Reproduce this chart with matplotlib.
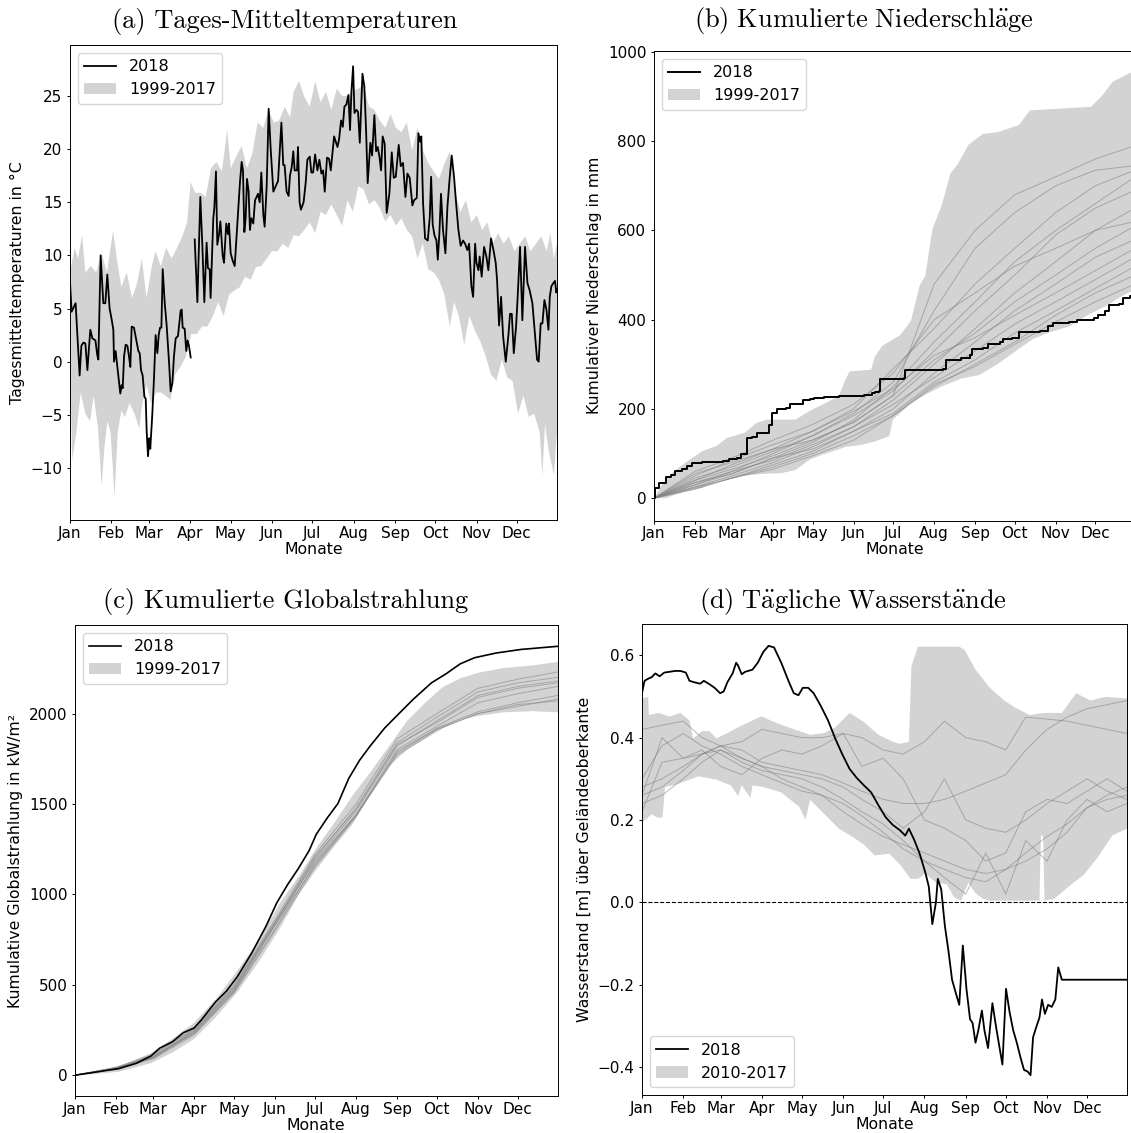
import numpy as np
import matplotlib
matplotlib.use('Agg')
import matplotlib.pyplot as plt
import matplotlib.dates as mdates
from datetime import datetime

plt.rcParams['font.family'] = ['DejaVu Sans']
plt.rcParams['font.size'] = 11
plt.rcParams['axes.labelsize'] = 11.3
plt.rcParams['axes.linewidth'] = 0.7
plt.rcParams['mathtext.fontset'] = 'cm'

nan = float('nan')

month_days = [0, 31, 59, 90, 120, 151, 181, 212, 243, 273, 304, 334, 364]

# (a) Tages-Mitteltemperaturen 2018 (Tag, °C)
temp_2018 = [
    (0, 7.5), (1.2, 4.7), (4.2, 5.5), (7.2, -1.3), (8.5, 1.5), (10, 1.8), (11.5, 1.7),
    (13, -0.8), (14, 1.0), (15.2, 3.0), (16.7, 2.2), (19, 2.0), (20.4, 0.6), (21.2, 0.2),
    (22.9, 10.0), (24.9, 5.5), (26.4, 5.5), (27.9, 8.2), (29.6, 5.0), (31.1, 4.0),
    (32.4, 3.0), (32.9, 0.0), (34.1, 1.0), (35.4, -0.5), (36.9, -2.3), (37.6, -3.0),
    (38.6, -2.2), (39.4, -2.5), (40.4, 0.5), (41.6, 1.6), (42.9, 1.5), (44.1, 0.5),
    (45.1, -0.5), (46.1, 3.3), (47.8, 3.2), (49.6, 2.0), (51.1, 1.0), (52.1, 0.8),
    (53.1, -0.8), (54.3, -1.3), (55.6, -3.3), (56.6, -3.5), (57.3, -6.5), (58.3, -8.9),
    (59.3, -7.2), (60, -8.2), (61.5, -5.0), (62.8, -1.5), (64, 2.5), (65.3, 0.8),
    (66.3, 2.5), (67.3, 3.2), (68.3, 3.2), (69.3, 8.7), (70.8, 5.5), (72.2, 3.5),
    (74, 0.0), (75.2, -2.8), (76.5, -2.0), (77.7, 0.5), (79, 2.2), (80.7, 2.4),
    (82.7, 4.8), (83.5, 4.9), (84.2, 3.2), (85.7, 3.1), (86.9, 1.0), (87.9, 2.0),
    (88.9, 1.5), (90.2, 0.4), (91.5, nan), (93.2, 11.5), (95.2, 5.6), (97.4, 15.5),
    (98.9, 11.0), (100.4, 5.6), (102.1, 11.2), (103.1, 8.8), (104.4, 8.7), (105.1, 6.0),
    (107.1, 13.5), (107.9, 14.5), (109.1, 17.9), (110.1, 11.0), (111.4, 12.0),
    (112.4, 13.2), (114.1, 10.0), (115.1, 9.3), (116.8, 13.0), (118.1, 12.0),
    (118.8, 13.0), (120.1, 10.2), (121.6, 9.5), (123.1, 9.0), (125.6, 14.0),
    (127.1, 17.0), (128.3, 18.8), (129.3, 18.0), (130.3, 12.2), (131.3, 13.5),
    (132.3, 17.2), (133.5, 16.0), (134.5, 12.4), (135.5, 13.5), (137, 13.0),
    (138.3, 15.2), (139.5, 15.5), (140.5, 15.8), (141.8, 15.0), (143, 17.8),
    (144.5, 13.8), (145.5, 12.7), (147, 16.5), (148.5, 23.8), (150, 20.0), (152, 16.0),
    (153.7, 16.5), (155.5, 17.0), (158, 22.5), (159.4, 18.5), (160.4, 18.5),
    (161.9, 16.0), (163.4, 15.6), (164.4, 17.5), (165.7, 18.3), (166.9, 19.8),
    (167.9, 18.0), (169.7, 18.0), (170.4, 20.2), (171.6, 15.0), (172.6, 14.3),
    (174.6, 15.0), (176.2, 16.9), (177.4, 19.0), (179.2, 19.3), (180.4, 17.8),
    (181.7, 17.8), (183.2, 19.5), (184.9, 18.0), (186.4, 19.0), (187.9, 17.7),
    (189.2, 18.0), (190.4, 16.0), (192.1, 19.2), (193.6, 19.1), (194.9, 18.0),
    (197.4, 21.2), (199.9, 20.2), (201.1, 20.9), (202.6, 22.7), (203.9, 22.1),
    (205.1, 24.0), (206.6, 24.2), (208.1, 25.1), (209.3, 21.8), (210.3, 25.3),
    (211.6, 27.8), (212.6, 23.4), (214.1, 23.7), (215.3, 23.5), (216.6, 20.6),
    (218.6, 27.1), (220.0, 25.9), (221.3, 21.8), (222.5, 16.8), (224.5, 20.6),
    (225.8, 19.4), (227.5, 23.2), (228.8, 19.8), (230.0, 20.2), (231.3, 19.3),
    (232.5, 18.0), (233.7, 21.2), (235.2, 20.5), (236.7, 14.0), (238.7, 15.8),
    (240.5, 19.7), (242.0, 17.3), (243.5, 17.4), (245.7, 20.4), (247.2, 18.4),
    (248.9, 18.7), (250.7, 15.5), (252.2, 17.7), (253.9, 17.3), (255.9, 14.7),
    (257.2, 15.2), (259.2, 15.4), (260.4, 21.5), (261.7, 20.7), (262.6, 21.2),
    (263.9, 14.9), (265.4, 11.6), (267.4, 11.4), (268.9, 13.6), (269.9, 17.4),
    (271.1, 12.9), (272.4, 11.9), (273.9, 11.4), (274.9, 9.6), (276.1, 12.1),
    (277.3, 15.8), (278.8, 12.4), (280.6, 10.2), (282.1, 14.6), (283.8, 17.3),
    (285.3, 19.4), (287.1, 17.3), (288.8, 14.6), (290.3, 12.4), (292.0, 10.9),
    (293.8, 11.4), (295.3, 11.1), (297.0, 10.5), (298.3, 11.1), (300.0, 7.1),
    (301.3, 6.1), (302.8, 11.1), (303.8, 9.3), (305.3, 8.6), (306.2, 9.9), (307.7, 8.0),
    (309.5, 10.8), (311.2, 9.9), (312.7, 8.6), (314.7, 11.6), (316.5, 10.5),
    (318.2, 9.3), (319.2, 7.7), (320.7, 3.4), (322.2, 6.1), (323.7, 2.4), (325.7, 0.0),
    (327.7, 2.5), (328.9, 4.5), (330.2, 4.5), (331.7, 0.8), (333.4, 3.3), (334.6, 6.1),
    (336.4, 10.8), (338.1, 3.9), (340.1, 10.8), (341.9, 7.4), (343.6, 6.7),
    (345.6, 5.5), (347.6, 2.4), (349.1, 0.2), (350.3, 0.0), (351.8, 3.6), (353.1, 3.6),
    (354.6, 5.8), (356.1, 4.9), (357.6, 3.0), (358.6, 6.1), (359.8, 7.1), (361.3, 7.4),
    (362.5, 7.6), (363.5, 6.5), (364, 6.8),
]

# (a) Spannweite 1999-2017: Obergrenze und Untergrenze (Tag, °C)
temp_max = [
    (0, 8.4), (3.5, 10.7), (6, 9.7), (9, 11.9), (11.5, 8.4), (15.5, 9.0), (19.6, 8.4),
    (23.6, 10.2), (27.6, 8.4), (32.2, 12.3), (35, 9.7), (38.4, 7.0), (42.4, 8.4),
    (46.4, 6.0), (50, 7.3), (53.7, 9.7), (57.2, 6.0), (61.2, 9.0), (63.9, 10.4),
    (67.9, 9.0), (71.9, 10.7), (75.9, 9.7), (80, 10.7), (84, 11.8), (87.5, 13.1),
    (90.2, 16.9), (93.4, 15.9), (97.4, 15.9), (101.4, 15.5), (105.4, 18.2),
    (109.5, 18.8), (113.5, 17.9), (117.5, 21.8), (120.2, 18.2), (124.2, 19.3),
    (128.3, 20.3), (132.3, 18.2), (136.3, 19.6), (140.3, 22.5), (144.4, 22.0),
    (148.4, 23.7), (152.4, 22.5), (156.4, 22.7), (160.5, 24.0), (164.5, 23.0),
    (167.2, 25.4), (171.2, 26.4), (175.2, 24.9), (179.2, 24.0), (183.3, 26.4),
    (187.3, 24.4), (191.3, 25.4), (195.3, 23.7), (199.4, 25.7), (203.4, 25.0),
    (207.4, 25.0), (211.4, 25.5), (215.5, 25.7), (219.5, 26.0), (223.5, 24.0),
    (227.5, 23.7), (231.5, 22.7), (235.6, 22.0), (239.6, 23.3), (243.6, 22.0),
    (247.7, 21.6), (251.7, 22.5), (255.7, 19.9), (259.7, 22.0), (263.7, 19.9),
    (267.8, 18.7), (271.8, 17.9), (275.8, 17.2), (279.8, 18.6), (283.9, 19.8),
    (287.9, 15.9), (291.9, 14.1), (295.9, 15.2), (300, 13.1), (304, 13.8), (308, 12.4),
    (312, 13.1), (316, 11.1), (320, 12.1), (324.1, 11.1), (328.1, 11.8), (332.2, 10.4),
    (336.2, 11.1), (340.2, 11.8), (344.2, 10.4), (348.3, 11.1), (352.3, 11.8),
    (356.3, 10.4), (359, 12.1), (361.7, 9.7), (364, 11.1),
]
temp_min = [
    (0, 0.2), (1.6, -9.3), (4.8, -6.6), (8, -2.9), (11.5, -4.9), (15, -5.6), (17.7, -3.2),
    (21, -6.3), (23.6, -11.7), (25.8, -8.0), (27.9, -5.6), (30.3, -6.6), (33.3, -12.7),
    (35.7, -6.6), (38.4, -4.6), (41, -5.2), (44.5, -3.9), (48.3, -4.9), (51.8, -6.3),
    (53.7, -4.2), (57.2, -2.2), (60.6, -3.9), (64.4, -2.9), (67.9, -2.9), (71.4, -3.2),
    (75.1, -3.6), (78.6, -1.2), (82.6, -0.5), (86.7, 0.5), (90.7, 2.6), (94.7, 2.6),
    (98.7, 3.3), (102.8, 3.3), (106.8, 4.3), (110.8, 5.6), (114.8, 4.3), (118.9, 6.3),
    (122.9, 6.7), (126.9, 7.0), (130.9, 8.0), (135, 7.7), (139, 8.9), (143, 9.0),
    (147, 9.7), (151.1, 10.4), (155.1, 10.4), (159.1, 11.1), (163.1, 10.7), (167.2, 11.9),
    (171.2, 11.8), (175.2, 12.4), (179.2, 13.1), (183.3, 12.1), (187.3, 14.1),
    (191.3, 13.8), (195.3, 14.8), (199.4, 13.8), (203.4, 12.8), (207.4, 15.2),
    (211.4, 14.1), (215.5, 16.5), (219.5, 16.2), (223.5, 14.8), (227.5, 15.2),
    (231.5, 14.5), (235.6, 13.2), (239.6, 13.8), (243.6, 12.8), (247.7, 13.5),
    (251.7, 12.4), (255.7, 11.8), (259.7, 9.7), (263.7, 11.1), (267.8, 8.7), (271.8, 8.4),
    (275.8, 7.7), (279.8, 6.3), (283.9, 3.3), (287.1, 5.6), (290.6, 4.3), (294.6, 1.6),
    (298.6, 4.3), (302.7, 2.9), (306.7, 1.9), (310.7, 0.5), (314.7, -1.2), (318.7, -1.8),
    (322.8, 0.2), (326.8, -1.5), (330.8, -1.8), (334.9, -4.9), (338.9, -3.2),
    (342.9, -5.2), (346.9, -4.9), (351, -6.6), (353.1, -10.7), (355, -5.9),
    (357.7, -8.3), (361.7, -10.7), (364, -6.6),
]

# (b) Kumulierter Niederschlag 2018 in mm (Tag, Wert ab diesem Tag)
precip_2018 = [
    (0, 0), (1, 22), (4, 33), (8, 35), (9, 47), (13, 52), (16, 60), (21, 65), (25, 72),
    (29, 78), (36, 80), (42, 82), (52, 83), (57, 88), (63, 90), (66, 100), (70, 135),
    (74, 138), (78, 145), (85, 147), (87, 165), (89, 190), (93, 200), (100, 203),
    (103, 210), (110, 212), (113, 220), (118, 222), (121, 225), (129, 227), (140, 228),
    (151, 230), (159, 232), (165, 236), (167, 238), (170, 240), (171, 268), (189, 270),
    (190, 288), (219, 290), (221, 310), (232, 315), (239, 320), (241, 335), (249, 337),
    (253, 345), (262, 350), (264, 357), (271, 360), (276, 372), (292, 375), (298, 385),
    (302, 392), (314, 395), (320, 400), (333, 403), (336, 410), (341, 420), (344, 432),
    (352, 435), (355, 448), (360, 452), (364, 455),
]
precip_max = [
    (0, 0), (6.3, 31), (14.4, 59), (25.4, 83), (36.3, 105), (47.2, 117), (55.3, 135),
    (69, 147), (77.2, 168), (85.3, 176), (107.1, 176), (118, 196), (129, 212),
    (139.9, 228), (144, 260), (148, 284), (164.4, 288), (167.1, 317), (172.6, 341),
    (186.2, 365), (194.4, 397), (201.2, 478), (205.3, 498), (210.7, 603), (217.6, 655),
    (224.4, 728), (229.8, 748), (238, 792), (248.9, 816), (259.8, 820), (276.2, 836),
    (284.4, 869), (330.7, 877), (338.9, 901), (347.1, 933), (360.1, 953), (364, 955),
]
precip_min = [
    (0, 0), (9, 0), (14.4, 6), (22.6, 15), (36.3, 23), (47.2, 39), (58.1, 43), (69, 51),
    (85.3, 55), (96.2, 56), (107.1, 63), (118, 87), (129, 99), (145.3, 115), (156.2, 119),
    (167.1, 127), (178, 139), (180.8, 176), (194.4, 212), (205.3, 232), (218.9, 252),
    (232.6, 268), (246.2, 276), (259.8, 300), (273.4, 329), (287.1, 357), (300.7, 373),
    (314.3, 385), (328, 410), (341.6, 430), (352.5, 450), (360.1, 462), (364, 466),
]
# (b) Einzeljahre 1999-2017, Monatsanfangswerte in mm
precip_years = [
    [0, 40, 75, 110, 130, 170, 230, 480, 600, 680, 720, 760, 790],
    [0, 35, 60, 100, 140, 190, 260, 420, 560, 640, 700, 735, 745],
    [0, 50, 85, 120, 150, 200, 290, 380, 480, 560, 640, 700, 735],
    [0, 30, 55, 90, 125, 175, 250, 350, 440, 530, 600, 660, 720],
    [0, 45, 70, 105, 140, 185, 240, 330, 420, 500, 590, 650, 690],
    [0, 25, 50, 80, 115, 160, 220, 300, 380, 460, 530, 600, 650],
    [0, 40, 65, 95, 130, 170, 230, 310, 370, 440, 500, 560, 610],
    [0, 20, 45, 75, 105, 150, 200, 280, 350, 420, 480, 540, 580],
    [0, 55, 80, 110, 150, 195, 245, 320, 360, 410, 460, 510, 560],
    [0, 30, 60, 85, 120, 160, 210, 270, 330, 390, 440, 490, 540],
    [0, 35, 55, 90, 110, 150, 190, 260, 310, 370, 420, 470, 520],
    [0, 22, 45, 70, 100, 140, 185, 250, 300, 350, 410, 460, 500],
    [0, 60, 90, 130, 165, 210, 280, 400, 460, 520, 560, 600, 620],
    [0, 25, 45, 65, 95, 130, 185, 255, 295, 345, 395, 440, 480],
]

# (c) Kumulierte Globalstrahlung in kW/m²
rad_days = [0, 32.8, 46.4, 57.2, 64, 73.5, 81.7, 89.8, 95.2, 106, 114.2, 122.4, 133.2,
            144.1, 152.2, 160.3, 168.5, 176.6, 182, 190.2, 198.3, 206.5, 214.6, 222.7,
            233.6, 244.4, 255.3, 268.9, 279.7, 290.6, 301.4, 317.7, 336.7, 364]
rad_2018 = [0, 36, 66, 106, 150, 185, 235, 261, 305, 405, 465, 544, 674, 824, 953, 1053,
            1143, 1242, 1332, 1422, 1502, 1641, 1741, 1821, 1920, 2000, 2080, 2170, 2219,
            2275, 2309, 2335, 2355, 2372]
rad_band_days = [0, 32.8, 57.2, 73.5, 89.8, 106.1, 122.4, 138.6, 154.9, 168.5, 182,
                 195.6, 209.2, 222.7, 236.3, 249.9, 263.4, 277, 290.6, 304.1, 323.1,
                 344.8, 364]
rad_max = [0, 50, 126, 205, 295, 425, 584, 754, 963, 1103, 1262, 1402, 1551, 1681, 1820,
           1960, 2060, 2149, 2199, 2229, 2255, 2269, 2289]
rad_min = [0, 22, 70, 130, 205, 325, 465, 634, 824, 1003, 1143, 1272, 1392, 1561, 1711,
           1801, 1861, 1920, 1970, 1990, 2010, 2016, 2010]
rad_years = [
    [0, 42, 110, 260, 500, 860, 1220, 1500, 1860, 2000, 2140, 2190, 2230],
    [0, 40, 100, 245, 480, 840, 1200, 1480, 1840, 1980, 2120, 2170, 2200],
    [0, 38, 95, 235, 470, 830, 1190, 1460, 1820, 1960, 2100, 2150, 2180],
    [0, 44, 115, 255, 490, 850, 1180, 1440, 1800, 1930, 2060, 2110, 2150],
    [0, 36, 90, 225, 460, 810, 1170, 1440, 1780, 1920, 2010, 2060, 2100],
    [0, 40, 100, 240, 470, 830, 1160, 1435, 1770, 1910, 2000, 2040, 2080],
    [0, 38, 105, 230, 455, 800, 1150, 1430, 1790, 1915, 2000, 2050, 2070],
    [0, 42, 98, 250, 485, 845, 1210, 1470, 1830, 1950, 2090, 2140, 2170],
]

# (d) Wasserstand 2018 in m über Geländeoberkante (Tag, m)
level_2018 = [
    (0, 0.508), (1.9, 0.538), (4.6, 0.543), (7.3, 0.547), (10, 0.556), (13.2, 0.549),
    (16.7, 0.558), (20.8, 0.560), (24.8, 0.562), (28.9, 0.562), (32.9, 0.558),
    (35.6, 0.538), (39.7, 0.534), (43.7, 0.531), (46.4, 0.538), (50.5, 0.530),
    (54.5, 0.521), (58.6, 0.508), (61.3, 0.512), (64, 0.534), (68, 0.556), (70.7, 0.582),
    (72.1, 0.575), (74.8, 0.554), (77.5, 0.560), (82.9, 0.565), (86.9, 0.582),
    (91, 0.608), (95, 0.623), (99.1, 0.619), (104.5, 0.582), (109.9, 0.538),
    (113.9, 0.508), (117.4, 0.503), (120.7, 0.521), (124.7, 0.521), (128.8, 0.508),
    (134.2, 0.477), (139.6, 0.442), (145, 0.398), (150.4, 0.359), (155.8, 0.324),
    (161.2, 0.302), (166.6, 0.284), (172, 0.267), (177.4, 0.236), (182.8, 0.207),
    (188.2, 0.188), (193.6, 0.175), (197.6, 0.162), (200.3, 0.179), (204.4, 0.151),
    (208.4, 0.118), (212.5, 0.074), (215.2, 0.039), (217.9, -0.053), (220.6, 0.0),
    (222, 0.057), (224.6, 0.031), (227.3, -0.057), (230, -0.118), (232.7, -0.188),
    (235.4, -0.219), (238.1, -0.249), (240.8, -0.105), (243.5, -0.210), (246.2, -0.284),
    (248.1, -0.293), (250.3, -0.341), (252.4, -0.311), (255.1, -0.263), (257, -0.311),
    (259.7, -0.354), (263, -0.245), (265.7, -0.302), (268.4, -0.354), (270.5, -0.394),
    (273.2, -0.210), (275.9, -0.267), (278.6, -0.311), (281.3, -0.341), (284, -0.376),
    (286.7, -0.407), (289.4, -0.411), (291.6, -0.420), (293.5, -0.328), (295.6, -0.306),
    (298.3, -0.280), (300.2, -0.236), (302.4, -0.271), (304.8, -0.249), (307.5, -0.254),
    (310.2, -0.236), (312.4, -0.158), (315.1, -0.188), (364, -0.188),
]
level_max = [
    (0, 0.495), (4.6, 0.499), (5.1, 0.455), (12.7, 0.46), (20.8, 0.451), (28.9, 0.46),
    (35.6, 0.442), (38.3, 0.398), (45.1, 0.416), (50.5, 0.416), (55.9, 0.398),
    (64, 0.411), (72.1, 0.425), (89.6, 0.452), (99.1, 0.438), (109.9, 0.425),
    (126.1, 0.407), (136.9, 0.411), (145, 0.425), (155.8, 0.46), (166.6, 0.438),
    (177.4, 0.407), (188.2, 0.39), (193.6, 0.385), (200.3, 0.39), (202.2, 0.573),
    (207.1, 0.621), (238.1, 0.621), (242.2, 0.613), (250.3, 0.565), (261.1, 0.521),
    (271.9, 0.49), (280, 0.473), (290.8, 0.455), (301.6, 0.46), (315.1, 0.46),
    (325.9, 0.508), (336.7, 0.49), (347.5, 0.499), (364, 0.495),
]
level_min = [
    (0, 0.193), (7.3, 0.214), (11.3, 0.206), (15.4, 0.206), (17.3, 0.28), (23.5, 0.284),
    (31.6, 0.293), (42.4, 0.306), (55.9, 0.298), (66.7, 0.284), (72.1, 0.258),
    (74.8, 0.284), (81.5, 0.254), (82.9, 0.284), (91, 0.28), (104.5, 0.267),
    (118, 0.232), (122.8, 0.201), (126.1, 0.249), (136.9, 0.214), (147.7, 0.179),
    (158.5, 0.158), (166.6, 0.14), (174.7, 0.114), (185.5, 0.118), (193.6, 0.092),
    (201.7, 0.057), (207.1, 0.057), (212.5, 0.07), (220.6, 0.048), (228.7, 0.044),
    (234.1, 0.013), (239.5, 0.004), (244.9, 0.048), (250.3, 0.022), (255.7, 0.009),
    (261.1, 0.004), (293.5, 0.004), (298.3, 0.004), (299.4, 0.162), (301, 0.162),
    (302.1, 0.004), (309.7, 0.009), (320.5, 0.039), (331.3, 0.066), (342, 0.109),
    (352.9, 0.162), (364, 0.179),
]
level_year_days = [0, 15, 31, 45, 59, 75, 90, 105, 120, 135, 151, 165, 181, 196, 212,
                   227, 243, 258, 273, 288, 304, 319, 334, 349, 364]
level_years = [
    [0.42, 0.43, 0.44, 0.40, 0.38, 0.39, 0.42, 0.41, 0.40, 0.40, 0.41, 0.40, 0.37, 0.36,
     0.39, 0.44, 0.40, 0.39, 0.37, 0.45, 0.445, 0.44, 0.43, 0.42, 0.41],
    [0.26, 0.28, 0.32, 0.36, 0.38, 0.37, 0.34, 0.33, 0.32, 0.31, 0.29, 0.27, 0.25, 0.24,
     0.24, 0.25, 0.27, 0.29, 0.31, 0.37, 0.42, 0.45, 0.47, 0.48, 0.49],
    [0.24, 0.26, 0.30, 0.34, 0.37, 0.35, 0.33, 0.32, 0.31, 0.30, 0.28, 0.25, 0.22, 0.18,
     0.22, 0.30, 0.20, 0.18, 0.17, 0.20, 0.24, 0.27, 0.30, 0.27, 0.25],
    [0.28, 0.30, 0.33, 0.36, 0.38, 0.35, 0.33, 0.30, 0.28, 0.26, 0.22, 0.19, 0.16, 0.14,
     0.12, 0.10, 0.08, 0.07, 0.08, 0.10, 0.13, 0.17, 0.23, 0.26, 0.28],
    [0.22, 0.34, 0.35, 0.36, 0.37, 0.34, 0.32, 0.31, 0.30, 0.28, 0.25, 0.22, 0.19, 0.15,
     0.10, 0.06, 0.02, 0.12, 0.02, 0.15, 0.10, 0.20, 0.25, 0.22, 0.24],
    [0.30, 0.38, 0.41, 0.38, 0.36, 0.33, 0.31, 0.29, 0.27, 0.26, 0.24, 0.21, 0.17, 0.13,
     0.10, 0.08, 0.06, 0.05, 0.08, 0.12, 0.16, 0.19, 0.23, 0.25, 0.26],
    [0.26, 0.40, 0.35, 0.37, 0.33, 0.31, 0.35, 0.37, 0.36, 0.38, 0.41, 0.33, 0.35, 0.30,
     0.20, 0.18, 0.15, 0.10, 0.12, 0.22, 0.25, 0.24, 0.27, 0.30, 0.27],
]

BASE = mdates.date2num(datetime(2018, 1, 1))
BAND = 'lightgray'

fig = plt.figure(figsize=(11.31, 11.33), dpi=100)
W, H = 1131.0, 1133.0


def to_dates(days):
    return BASE + np.asarray(days, dtype=float)


def split(pairs):
    arr = np.array(pairs, dtype=float)
    return to_dates(arr[:, 0]), arr[:, 1]


def band(ax, upper, lower, label):
    ux, uy = split(upper)
    lx, ly = split(lower)
    return ax.fill(np.r_[ux, lx[::-1]], np.r_[uy, ly[::-1]], color=BAND, lw=0,
                   label=label)[0]


def axes_px(left, top, right, bottom):
    return fig.add_axes([left / W, 1 - bottom / H, (right - left) / W, (bottom - top) / H])


def title_px(text, xc, baseline, mathtext=False):
    # Titel sitzen mittig über Achse plus y-Beschriftung, in Computer Modern
    family = 'DejaVu Sans' if mathtext else 'cmr10'
    fig.text(xc / W, 1 - baseline / H, text, fontsize=19, family=family,
             ha='center', va='baseline')


def finish(ax, ylabel, ylim, legend_loc, handles):
    ax.set_xlim(BASE, BASE + 364)
    ax.set_ylim(*ylim)
    ax.xaxis.set_major_locator(mdates.MonthLocator())
    ax.xaxis.set_major_formatter(mdates.DateFormatter('%b'))
    ax.tick_params(axis='x', length=2.5, width=0.7, pad=1.5)
    ax.tick_params(axis='y', length=2.5, width=0.7, pad=3)
    ax.set_xlabel('Monate', labelpad=1)
    ax.set_ylabel(ylabel)
    ax.legend(handles=handles, loc=legend_loc, fontsize=11.5)


# (a)
ax = axes_px(70, 45, 557, 520)
b = band(ax, temp_max, temp_min, '1999-2017')
x, y = split(temp_2018)
ln, = ax.plot(x, y, color='k', lw=1.3, label='2018')
finish(ax, 'Tagesmitteltemperaturen in °C', (-14.9, 29.8), 'upper left', [ln, b])
title_px('(a) Tages-Mitteltemperaturen', 285, 28)

# (b)
ax = axes_px(654, 51, 1135, 520.5)
b = band(ax, precip_max, precip_min, '1999-2017')
for vals in precip_years:
    ax.plot(to_dates(month_days), vals, color='grey', alpha=0.55, lw=0.7)
x, y = split(precip_2018)
ln, = ax.step(x, y, where='post', color='k', lw=1.4, label='2018')
finish(ax, 'Kumulativer Niederschlag in mm', (-50, 1002), 'upper left', [ln, b])
title_px(r'$\mathrm{(b)\ Kumulierte\ Niederschl\ddot{a}ge}$', 864, 27, mathtext=True)

# (c)
ax = axes_px(75, 625, 557.5, 1096)
b = ax.fill_between(to_dates(rad_band_days), rad_min, rad_max, color=BAND, lw=0,
                    label='1999-2017')
for vals in rad_years:
    ax.plot(to_dates(month_days), vals, color='grey', alpha=0.55, lw=0.7)
ln, = ax.plot(to_dates(rad_days), rad_2018, color='k', lw=1.2, label='2018')
finish(ax, 'Kumulative Globalstrahlung in kW/m²', (-115, 2490), 'upper left', [ln, b])
title_px('(c) Kumulierte Globalstrahlung', 285.5, 608)

# (d)
ax = axes_px(642, 624, 1127, 1095)
b = band(ax, level_max, level_min, '2010-2017')
for vals in level_years:
    ax.plot(to_dates(level_year_days), vals, color='grey', alpha=0.55, lw=0.7)
ax.axhline(0, color='k', ls='--', lw=0.8)
x, y = split(level_2018)
ln, = ax.plot(x, y, color='k', lw=1.3, label='2018')
finish(ax, 'Wasserstand [m] über Geländeoberkante', (-0.468, 0.676), 'lower left', [ln, b])
title_px(r'$\mathrm{(d)\ T\ddot{a}gliche\ Wasserst\ddot{a}nde}$', 853, 608, mathtext=True)

fig.savefig('out.png', dpi=100)
